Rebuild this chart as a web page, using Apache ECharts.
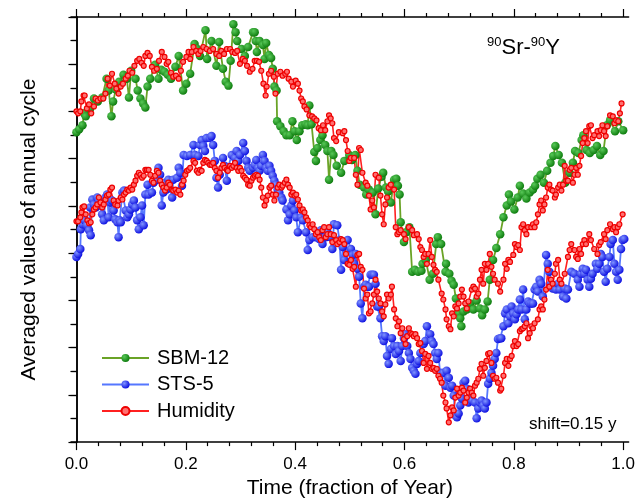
<!DOCTYPE html>
<html>
<head>
<meta charset="utf-8">
<script src="https://cdn.jsdelivr.net/npm/echarts@6/dist/echarts.min.js"></script>
<style>
  html, body { margin: 0; padding: 0; background: #fff; }
  #chart { width: 638px; height: 504px; }
</style>
</head>
<body>
<div id="chart"></div>
<script>
// time as fraction of year, averaged value (arbitrary units)
var sbm12 = [
  [0.000,31.3],[0.005,31.6],[0.011,32.0],[0.014,33.2],[0.017,32.9],[0.025,33.7],[0.032,34.7],[0.039,34.4],[0.047,34.8],[0.055,36.7],
  [0.059,35.5],[0.064,32.9],[0.067,34.4],[0.072,35.6],[0.078,36.4],[0.086,37.1],[0.092,36.7],[0.096,34.8],[0.100,37.5],[0.108,36.7],
  [0.112,35.5],[0.117,34.7],[0.122,34.2],[0.126,33.8],[0.130,35.9],[0.135,36.7],[0.144,38.1],[0.150,36.7],[0.155,37.6],[0.161,37.4],
  [0.167,37.1],[0.173,36.7],[0.181,37.9],[0.187,39.0],[0.195,35.5],[0.201,36.2],[0.208,37.2],[0.216,40.2],[0.221,39.7],[0.226,39.0],
  [0.236,41.6],[0.239,38.7],[0.247,40.5],[0.256,38.0],[0.261,40.4],[0.268,37.7],[0.273,36.4],[0.278,36.0],[0.282,38.5],[0.287,42.2],
  [0.291,41.4],[0.294,40.5],[0.302,39.7],[0.308,39.0],[0.314,39.9],[0.323,41.4],[0.326,41.4],[0.328,40.5],[0.330,39.4],[0.335,40.5],
  [0.341,40.1],[0.344,38.7],[0.347,40.3],[0.352,39.1],[0.356,38.8],[0.359,37.7],[0.362,35.9],[0.366,35.5],[0.367,32.4],[0.373,31.9],
  [0.379,31.4],[0.384,31.0],[0.390,31.0],[0.395,32.4],[0.399,31.4],[0.403,30.5],[0.408,31.4],[0.413,32.0],[0.419,32.1],[0.423,32.0],
  [0.426,34.0],[0.430,32.1],[0.435,29.3],[0.438,28.4],[0.441,29.7],[0.446,30.5],[0.450,31.0],[0.455,30.0],[0.459,29.4],[0.462,26.5],
  [0.466,29.4],[0.470,29.0],[0.476,27.9],[0.484,27.2],[0.490,28.4],[0.499,29.0],[0.504,28.5],[0.510,29.0],[0.514,27.4],[0.518,26.0],
  [0.526,25.7],[0.530,25.0],[0.535,25.5],[0.542,25.2],[0.547,23.0],[0.552,25.6],[0.558,26.8],[0.561,27.2],[0.566,25.7],[0.570,25.3],
  [0.575,24.2],[0.581,26.5],[0.585,26.6],[0.588,25.9],[0.591,25.0],[0.593,22.2],[0.599,20.2],[0.603,21.2],[0.609,21.7],[0.614,17.2],
  [0.619,17.4],[0.625,17.2],[0.631,17.3],[0.633,18.0],[0.639,18.4],[0.646,16.4],[0.652,17.0],[0.658,20.0],[0.661,20.7],[0.667,20.0],
  [0.675,17.2],[0.676,18.0],[0.682,17.0],[0.686,16.3],[0.690,15.9],[0.694,14.5],[0.699,13.0],[0.702,12.5],[0.704,11.7],[0.708,13.2],
  [0.714,13.4],[0.720,14.0],[0.726,13.4],[0.732,14.3],[0.738,13.5],[0.742,12.8],[0.747,13.4],[0.752,14.2],[0.756,16.4],[0.762,18.4],
  [0.768,19.6],[0.775,21.0],[0.781,22.7],[0.787,23.9],[0.791,25.0],[0.795,24.3],[0.801,23.5],[0.807,24.7],[0.811,25.9],[0.817,25.1],
  [0.823,24.6],[0.829,25.2],[0.835,25.5],[0.839,25.9],[0.843,26.6],[0.849,27.0],[0.855,26.2],[0.861,27.4],[0.867,28.2],[0.872,28.9],
  [0.876,29.9],[0.882,29.0],[0.888,28.2],[0.894,26.2],[0.902,27.2],[0.908,28.2],[0.912,29.4],[0.918,29.2],[0.924,30.5],[0.927,31.0],
  [0.933,29.5],[0.939,29.2],[0.946,29.5],[0.952,29.9],[0.958,29.0],[0.964,29.4],[0.970,32.0],[0.976,32.5],[0.985,31.4],[0.991,32.4],
  [1.000,31.5]
];

var sts5 = [
  [0.000,18.7],[0.003,19.0],[0.007,19.5],[0.008,21.5],[0.011,22.0],[0.015,22.4],[0.019,21.9],[0.023,21.4],[0.025,23.7],[0.026,20.9],
  [0.029,24.5],[0.032,24.0],[0.035,23.7],[0.038,24.7],[0.041,24.4],[0.044,23.9],[0.047,23.0],[0.050,22.4],[0.053,24.7],[0.056,25.0],
  [0.059,22.7],[0.062,24.2],[0.065,24.4],[0.068,23.4],[0.071,22.5],[0.075,22.2],[0.077,20.7],[0.079,22.4],[0.081,22.2],[0.084,25.2],
  [0.087,25.4],[0.090,23.4],[0.093,22.7],[0.096,23.0],[0.099,23.5],[0.102,24.0],[0.105,24.4],[0.108,23.7],[0.111,22.4],[0.114,21.5],
  [0.117,22.7],[0.120,23.9],[0.123,21.9],[0.126,25.0],[0.130,26.0],[0.132,25.0],[0.138,25.2],[0.141,26.2],[0.147,26.5],[0.150,27.7],
  [0.153,27.0],[0.156,23.9],[0.159,25.2],[0.162,26.2],[0.165,25.5],[0.168,26.5],[0.175,24.7],[0.177,26.5],[0.184,26.7],[0.187,27.7],
  [0.190,27.2],[0.193,25.9],[0.196,29.0],[0.202,28.9],[0.208,29.0],[0.214,30.0],[0.217,29.0],[0.223,28.9],[0.226,30.0],[0.229,30.5],
  [0.232,29.9],[0.235,29.4],[0.238,30.7],[0.244,30.7],[0.247,30.9],[0.250,30.0],[0.253,28.4],[0.256,26.7],[0.259,25.7],[0.262,27.0],
  [0.268,28.7],[0.271,27.9],[0.275,26.4],[0.277,27.7],[0.284,29.0],[0.290,28.7],[0.293,29.4],[0.296,28.4],[0.299,29.0],[0.305,30.2],
  [0.308,29.4],[0.311,28.4],[0.314,27.7],[0.317,27.4],[0.323,27.7],[0.326,28.0],[0.329,28.5],[0.332,27.7],[0.335,27.4],[0.338,27.9],
  [0.341,29.0],[0.344,28.4],[0.347,27.7],[0.350,27.4],[0.353,27.9],[0.356,27.4],[0.359,26.9],[0.362,26.4],[0.365,26.0],[0.368,25.5],
  [0.371,25.2],[0.375,24.7],[0.377,24.4],[0.384,23.5],[0.387,22.4],[0.390,23.0],[0.393,23.9],[0.396,24.4],[0.399,23.4],[0.402,22.7],
  [0.405,21.2],[0.411,22.7],[0.414,22.4],[0.420,21.2],[0.423,19.4],[0.426,20.4],[0.432,20.7],[0.438,20.7],[0.444,20.5],[0.447,21.4],
  [0.450,20.0],[0.456,20.7],[0.459,21.2],[0.465,20.7],[0.468,19.5],[0.471,22.0],[0.477,21.9],[0.481,20.4],[0.484,17.4],[0.487,19.7],
  [0.490,18.4],[0.496,20.4],[0.502,19.5],[0.505,18.9],[0.508,18.0],[0.511,19.0],[0.514,17.5],[0.517,16.7],[0.520,14.0],[0.523,12.5],
  [0.526,15.7],[0.529,15.9],[0.532,15.7],[0.535,15.7],[0.538,16.9],[0.541,16.9],[0.544,16.9],[0.547,16.0],[0.550,13.7],[0.553,13.7],
  [0.556,12.5],[0.559,10.7],[0.562,10.2],[0.565,10.7],[0.568,8.7],[0.571,7.9],[0.575,9.4],[0.577,10.5],[0.581,9.7],[0.584,8.9],
  [0.587,9.7],[0.590,9.2],[0.593,8.2],[0.596,9.7],[0.599,10.5],[0.602,10.9],[0.605,9.7],[0.608,9.0],[0.611,8.4],[0.614,7.5],
  [0.617,7.2],[0.620,6.9],[0.623,7.9],[0.626,8.2],[0.629,9.0],[0.635,9.9],[0.638,10.2],[0.641,11.7],[0.647,10.9],[0.650,10.2],
  [0.653,9.9],[0.656,9.0],[0.659,8.4],[0.662,9.0],[0.665,7.0],[0.671,7.0],[0.675,5.7],[0.677,7.2],[0.681,6.5],[0.684,5.5],
  [0.687,5.7],[0.690,4.7],[0.693,2.7],[0.696,2.5],[0.699,2.9],[0.702,3.7],[0.705,4.4],[0.708,6.0],[0.711,6.2],[0.714,5.4],
  [0.717,4.0],[0.720,4.4],[0.723,4.2],[0.729,4.0],[0.732,2.4],[0.735,3.4],[0.738,4.0],[0.741,4.2],[0.744,3.7],[0.747,3.4],
  [0.750,4.0],[0.753,5.9],[0.756,6.4],[0.759,7.0],[0.762,7.7],[0.765,8.4],[0.768,9.0],[0.771,10.4],[0.775,10.5],[0.777,10.5],
  [0.781,11.7],[0.784,13.0],[0.787,13.4],[0.790,12.0],[0.793,12.7],[0.796,13.7],[0.799,13.0],[0.802,12.4],[0.805,12.9],[0.808,13.4],
  [0.811,14.4],[0.814,13.4],[0.817,15.4],[0.820,12.4],[0.823,13.4],[0.826,14.2],[0.829,14.0],[0.832,14.0],[0.835,14.0],[0.838,15.4],
  [0.841,15.7],[0.844,15.2],[0.847,16.4],[0.850,16.0],[0.853,14.7],[0.859,18.9],[0.862,18.0],[0.865,17.2],[0.868,16.0],[0.871,15.5],
  [0.875,15.7],[0.877,15.4],[0.881,16.0],[0.884,15.4],[0.890,14.7],[0.893,15.5],[0.896,14.5],[0.899,15.4],[0.905,17.2],[0.911,17.0],
  [0.917,16.4],[0.920,15.7],[0.923,17.0],[0.926,17.5],[0.929,17.0],[0.932,17.4],[0.935,16.4],[0.938,15.7],[0.941,16.5],[0.944,17.0],
  [0.950,18.0],[0.953,17.5],[0.956,18.0],[0.959,19.0],[0.962,18.7],[0.965,17.2],[0.968,16.2],[0.971,17.5],[0.975,18.7],[0.977,20.0],
  [0.981,20.4],[0.984,18.0],[0.987,17.2],[0.990,16.4],[0.993,17.4],[0.996,19.5],[0.999,20.4],[1.002,20.5]
];

// humidity, drawn twice: once against SBM-12 (upper), once against STS-5 (lower)
var humidityUpper = [
  [0.000,33.4],[0.003,33.2],[0.007,33.4],[0.009,34.4],[0.013,35.0],[0.015,35.0],[0.019,33.7],[0.023,34.1],[0.027,33.2],[0.032,33.9],
  [0.035,34.7],[0.039,34.5],[0.044,34.7],[0.049,34.7],[0.053,35.2],[0.057,36.7],[0.061,36.0],[0.065,37.2],[0.070,36.2],[0.073,35.7],
  [0.077,35.2],[0.081,35.9],[0.085,36.2],[0.090,36.7],[0.094,37.0],[0.097,37.5],[0.102,37.3],[0.106,38.0],[0.111,38.5],[0.115,38.7],
  [0.119,38.3],[0.123,38.0],[0.126,39.0],[0.130,39.3],[0.134,39.0],[0.138,37.9],[0.142,37.5],[0.147,37.7],[0.151,38.5],[0.156,39.4],
  [0.161,38.9],[0.165,38.2],[0.168,38.4],[0.173,37.3],[0.177,36.9],[0.182,37.0],[0.187,36.7],[0.191,37.5],[0.195,38.4],[0.201,38.9],
  [0.205,39.4],[0.208,38.7],[0.211,39.4],[0.214,39.9],[0.219,39.5],[0.223,39.2],[0.227,39.5],[0.232,39.9],[0.238,39.7],[0.244,39.5],
  [0.250,39.7],[0.256,39.2],[0.261,39.0],[0.265,39.5],[0.270,39.2],[0.275,39.7],[0.281,39.7],[0.285,39.4],[0.290,39.3],[0.294,39.5],
  [0.299,38.2],[0.304,38.7],[0.308,38.5],[0.312,38.0],[0.317,37.4],[0.322,37.7],[0.326,38.5],[0.330,38.5],[0.334,38.4],[0.338,37.5],
  [0.342,36.2],[0.346,35.0],[0.348,35.9],[0.352,37.2],[0.356,37.5],[0.361,36.9],[0.364,35.2],[0.368,37.2],[0.373,37.4],[0.377,37.0],
  [0.382,37.2],[0.385,37.4],[0.388,36.7],[0.393,36.4],[0.396,35.9],[0.401,36.5],[0.405,36.2],[0.408,35.5],[0.411,34.7],[0.414,34.4],
  [0.417,33.9],[0.421,33.6],[0.426,33.0],[0.431,32.9],[0.435,32.7],[0.439,32.5],[0.443,31.7],[0.447,31.5],[0.451,32.0],[0.455,31.5],
  [0.459,32.4],[0.462,33.0],[0.465,32.7],[0.468,32.2],[0.471,30.7],[0.475,30.4],[0.480,31.3],[0.487,31.2],[0.490,31.4],[0.493,30.5],
  [0.496,29.4],[0.499,28.4],[0.502,28.7],[0.508,28.7],[0.511,27.0],[0.514,26.0],[0.517,29.7],[0.520,29.5],[0.523,27.2],[0.529,26.2],
  [0.532,25.9],[0.535,24.9],[0.538,23.5],[0.541,24.4],[0.544,23.7],[0.547,27.0],[0.553,26.7],[0.556,24.9],[0.559,23.0],[0.562,22.0],
  [0.565,24.0],[0.568,24.7],[0.571,25.7],[0.575,26.0],[0.581,25.5],[0.584,21.7],[0.587,21.0],[0.590,21.2],[0.593,21.4],[0.599,21.0],
  [0.602,20.5],[0.608,21.7],[0.614,21.4],[0.617,20.9],[0.623,21.0],[0.626,20.5],[0.629,19.7],[0.632,19.4],[0.635,18.7],[0.638,19.0],
  [0.641,18.0],[0.644,19.0],[0.647,20.4],[0.650,18.7],[0.653,17.9],[0.656,17.4],[0.659,17.2],[0.662,16.4],[0.668,15.0],[0.671,14.4],
  [0.675,13.4],[0.677,12.4],[0.681,11.7],[0.684,11.4],[0.687,13.0],[0.690,12.7],[0.693,13.7],[0.696,13.5],[0.699,14.0],[0.702,14.7],
  [0.705,15.4],[0.708,14.7],[0.711,14.0],[0.714,13.5],[0.717,14.2],[0.723,15.4],[0.726,15.7],[0.729,15.5],[0.732,14.7],[0.735,15.0],
  [0.738,16.4],[0.741,17.4],[0.744,16.0],[0.747,18.0],[0.750,17.4],[0.753,18.0],[0.756,19.0],[0.759,17.7],[0.762,17.0],[0.765,16.4],
  [0.771,16.0],[0.775,15.2],[0.781,16.4],[0.784,18.0],[0.787,17.5],[0.790,18.4],[0.793,18.2],[0.799,18.9],[0.802,20.0],[0.805,19.7],
  [0.808,19.9],[0.811,19.4],[0.814,21.7],[0.817,22.0],[0.820,21.4],[0.823,21.0],[0.826,21.7],[0.832,21.7],[0.835,22.0],[0.838,21.7],
  [0.841,22.2],[0.844,23.0],[0.847,24.0],[0.850,24.4],[0.853,23.4],[0.856,24.0],[0.859,24.7],[0.862,25.7],[0.865,26.0],[0.868,25.5],
  [0.871,25.4],[0.875,24.7],[0.877,25.0],[0.881,25.7],[0.884,26.0],[0.887,25.4],[0.890,26.0],[0.893,27.9],[0.896,26.4],[0.899,26.4],
  [0.902,27.5],[0.905,27.7],[0.908,26.2],[0.911,27.0],[0.914,27.7],[0.917,27.0],[0.920,27.9],[0.923,28.9],[0.926,30.2],[0.929,30.7],
  [0.932,31.4],[0.935,30.2],[0.938,31.9],[0.941,32.0],[0.944,30.7],[0.947,31.0],[0.953,31.4],[0.956,30.9],[0.959,31.5],[0.962,32.0],
  [0.965,31.4],[0.968,30.9],[0.971,31.9],[0.976,33.0],[0.981,32.9],[0.984,32.2],[0.987,32.5],[0.991,32.4],[0.994,33.2],[0.997,34.2]
];

var humidityLower = [
  [0.000,22.3],[0.003,22.3],[0.007,22.7],[0.009,23.2],[0.011,23.7],[0.014,23.8],[0.017,23.0],[0.020,22.4],[0.023,22.1],[0.026,22.2],
  [0.029,23.0],[0.032,23.5],[0.035,23.7],[0.038,24.0],[0.041,24.7],[0.044,24.2],[0.047,23.7],[0.050,24.0],[0.053,24.5],[0.056,24.9],
  [0.059,25.0],[0.062,25.5],[0.065,25.7],[0.068,24.4],[0.071,24.0],[0.075,23.9],[0.077,24.4],[0.081,24.7],[0.084,24.5],[0.087,25.0],
  [0.090,25.2],[0.093,25.5],[0.096,25.4],[0.099,25.7],[0.102,25.5],[0.105,26.0],[0.108,26.4],[0.111,26.9],[0.114,27.2],[0.117,27.0],
  [0.120,26.7],[0.123,26.9],[0.126,27.5],[0.129,27.5],[0.132,27.5],[0.135,27.0],[0.138,26.4],[0.141,26.2],[0.144,26.9],[0.147,27.4],
  [0.150,27.2],[0.153,26.4],[0.156,26.0],[0.159,25.7],[0.162,25.4],[0.165,25.7],[0.168,26.2],[0.171,26.0],[0.175,25.5],[0.177,25.4],
  [0.181,25.5],[0.184,25.2],[0.187,25.4],[0.190,25.0],[0.193,26.0],[0.196,26.4],[0.199,27.0],[0.202,27.4],[0.205,27.5],[0.208,27.7],
  [0.214,28.4],[0.217,28.2],[0.220,27.4],[0.223,27.2],[0.226,27.5],[0.229,27.4],[0.232,28.2],[0.235,28.5],[0.238,28.4],[0.241,28.2],
  [0.244,28.0],[0.247,28.0],[0.250,28.2],[0.253,27.7],[0.256,27.4],[0.259,26.7],[0.262,27.2],[0.265,27.7],[0.268,28.0],[0.271,27.7],
  [0.275,27.5],[0.277,27.4],[0.281,27.9],[0.284,27.7],[0.287,27.9],[0.290,28.2],[0.293,27.7],[0.296,27.4],[0.299,27.7],[0.302,27.4],
  [0.305,26.9],[0.308,26.7],[0.311,26.5],[0.314,26.0],[0.317,25.9],[0.320,26.4],[0.323,26.7],[0.326,26.9],[0.329,27.0],[0.332,26.9],
  [0.335,26.5],[0.338,25.7],[0.341,24.7],[0.344,23.9],[0.347,24.4],[0.350,24.9],[0.353,25.7],[0.356,25.9],[0.359,25.0],[0.362,24.4],
  [0.365,25.0],[0.368,25.7],[0.371,26.0],[0.375,25.7],[0.377,25.9],[0.381,26.2],[0.384,26.5],[0.387,26.0],[0.390,25.7],[0.393,25.0],
  [0.396,25.2],[0.399,24.9],[0.402,25.0],[0.405,24.5],[0.408,23.9],[0.411,23.4],[0.414,23.5],[0.417,23.2],[0.420,22.7],[0.423,22.4],
  [0.426,21.9],[0.429,21.7],[0.432,22.0],[0.435,21.5],[0.438,21.0],[0.441,21.2],[0.444,20.7],[0.447,20.4],[0.450,21.4],[0.453,21.7],
  [0.456,20.7],[0.459,21.0],[0.462,21.7],[0.465,21.0],[0.468,20.2],[0.471,20.9],[0.475,20.4],[0.477,20.0],[0.481,20.2],[0.484,20.5],
  [0.487,20.4],[0.490,20.0],[0.493,19.0],[0.496,18.0],[0.499,17.9],[0.502,18.4],[0.505,17.5],[0.508,17.7],[0.511,15.7],[0.514,18.9],
  [0.517,19.0],[0.520,17.7],[0.523,17.4],[0.526,15.5],[0.529,14.5],[0.532,14.9],[0.535,13.0],[0.538,13.2],[0.541,14.0],[0.544,14.9],
  [0.547,16.4],[0.550,15.2],[0.553,14.5],[0.556,14.0],[0.559,13.2],[0.562,12.7],[0.565,13.9],[0.568,14.9],[0.571,14.5],[0.575,14.9],
  [0.577,15.7],[0.581,13.4],[0.584,12.5],[0.587,11.7],[0.590,12.2],[0.593,11.0],[0.596,11.5],[0.599,10.4],[0.602,9.9],[0.605,10.7],
  [0.608,11.5],[0.611,11.0],[0.614,10.9],[0.617,10.7],[0.620,10.9],[0.623,10.5],[0.626,9.9],[0.629,10.0],[0.632,9.2],[0.635,8.0],
  [0.638,8.9],[0.641,7.4],[0.644,8.7],[0.647,8.0],[0.650,7.4],[0.653,7.5],[0.656,7.2],[0.659,7.4],[0.662,6.7],[0.665,6.4],
  [0.668,6.0],[0.671,4.7],[0.675,4.0],[0.677,3.4],[0.681,2.0],[0.684,2.7],[0.687,3.5],[0.690,3.2],[0.693,4.5],[0.696,5.4],
  [0.699,4.7],[0.702,5.0],[0.705,5.5],[0.708,5.2],[0.711,4.0],[0.714,4.5],[0.717,5.0],[0.720,5.4],[0.723,5.0],[0.726,4.7],
  [0.729,5.7],[0.732,6.0],[0.735,6.4],[0.738,7.4],[0.741,7.9],[0.744,6.7],[0.747,7.5],[0.750,8.2],[0.753,8.9],[0.756,9.0],
  [0.759,8.0],[0.762,6.7],[0.765,6.4],[0.768,6.5],[0.771,6.0],[0.775,5.2],[0.777,5.4],[0.781,6.7],[0.784,8.0],[0.787,8.4],
  [0.790,7.7],[0.793,8.4],[0.796,8.7],[0.799,9.7],[0.802,10.2],[0.805,9.7],[0.808,9.9],[0.811,11.2],[0.814,11.4],[0.817,11.5],
  [0.820,11.7],[0.823,12.0],[0.826,10.5],[0.829,11.0],[0.832,11.7],[0.835,11.5],[0.838,12.0],[0.844,12.4],[0.847,13.4],[0.850,13.7],
  [0.853,13.4],[0.856,14.4],[0.859,15.4],[0.862,17.4],[0.865,15.7],[0.868,16.4],[0.871,16.0],[0.875,17.0],[0.877,18.0],[0.881,18.4],
  [0.884,16.4],[0.887,16.0],[0.893,17.0],[0.899,18.7],[0.902,19.4],[0.905,20.0],[0.911,19.4],[0.914,18.7],[0.917,18.5],[0.920,19.5],
  [0.923,19.0],[0.926,20.0],[0.929,20.4],[0.932,20.0],[0.938,21.0],[0.941,20.4],[0.947,19.5],[0.953,19.0],[0.956,19.9],[0.959,20.2],
  [0.965,21.0],[0.968,20.5],[0.971,21.4],[0.976,22.0],[0.981,21.5],[0.984,21.7],[0.987,21.2],[0.990,21.7],[0.993,22.0],[0.999,23.0]
];

var xMajorTicks = [0, 0.2, 0.4, 0.6, 0.8, 1.0];
var xMinorTicks = [0.04, 0.08, 0.12, 0.16, 0.24, 0.28, 0.32, 0.36, 0.44, 0.48, 0.52, 0.56,
                   0.64, 0.68, 0.72, 0.76, 0.84, 0.88, 0.92, 0.96];

var FONT = '"Liberation Sans", Arial, sans-serif';
var X_MIN = -0.01, X_MAX = 1.01;
var Y_MAX = 42.93, Y_STEP = 4.77;

var chart = echarts.init(document.getElementById('chart'));

function ball(light, dark) {
    return {
        type: 'radial', x: 0.35, y: 0.35, r: 0.75,
        colorStops: [{offset: 0, color: light}, {offset: 1, color: dark}]
    };
}

var frameLine = {show: true, lineStyle: {color: '#000', width: 1.5}};

var option = {
    animation: false,
    backgroundColor: '#fff',
    grid: {left: 71, right: 7, top: 17, bottom: 57},
    legend: {
        orient: 'vertical',
        left: 96,
        top: 343,
        itemWidth: 47,
        itemHeight: 10,
        itemGap: 6.5,
        data: ['SBM-12', 'STS-5', 'Humidity'],
        textStyle: {fontFamily: FONT, fontSize: 20, color: '#000', lineHeight: 20, padding: [0, 0, 0, 3]}
    },
    graphic: [
        {
            type: 'text', left: 487, top: 36,
            style: {
                text: '{s|90}{b|Sr-}{s|90}{b|Y}',
                rich: {
                    s: {fontFamily: FONT, fontSize: 13, color: '#000', verticalAlign: 'top', lineHeight: 24},
                    b: {fontFamily: FONT, fontSize: 22, color: '#000', lineHeight: 24}
                }
            }
        },
        {
            type: 'text', left: 529, top: 416,
            style: {text: 'shift=0.15 y', fontFamily: FONT, fontSize: 17, fill: '#000'}
        }
    ],
    xAxis: [
        {
            type: 'value', min: X_MIN, max: X_MAX, position: 'bottom',
            name: 'Time (fraction of Year)', nameLocation: 'middle', nameGap: 35,
            nameTextStyle: {fontFamily: FONT, fontSize: 21, color: '#000'},
            axisLine: frameLine,
            axisTick: {show: true, customValues: xMajorTicks, length: 8, lineStyle: {color: '#000', width: 1.2}},
            axisLabel: {customValues: xMajorTicks, margin: 14, fontFamily: FONT, fontSize: 17, color: '#000',
                        formatter: function (v) { return v.toFixed(1); }},
            splitLine: {show: false}
        },
        {
            type: 'value', min: X_MIN, max: X_MAX, position: 'bottom',
            axisLine: {show: false},
            axisTick: {show: true, customValues: xMinorTicks, length: 4, lineStyle: {color: '#000', width: 1.2}},
            axisLabel: {show: false}, splitLine: {show: false}
        },
        {
            type: 'value', min: X_MIN, max: X_MAX, position: 'top',
            axisLine: frameLine,
            axisTick: {show: true, customValues: xMajorTicks, length: 8, lineStyle: {color: '#000', width: 1.2}},
            axisLabel: {show: false}, splitLine: {show: false}
        },
        {
            type: 'value', min: X_MIN, max: X_MAX, position: 'top',
            axisLine: {show: false},
            axisTick: {show: true, customValues: xMinorTicks, length: 4, lineStyle: {color: '#000', width: 1.2}},
            axisLabel: {show: false}, splitLine: {show: false}
        }
    ],
    yAxis: [
        {
            type: 'value', min: 0, max: Y_MAX, interval: Y_STEP, position: 'left',
            name: 'Averaged values of annual cycle', nameLocation: 'middle', nameGap: 31,
            nameTextStyle: {fontFamily: FONT, fontSize: 21, color: '#000'},
            axisLine: frameLine,
            axisTick: {show: true, length: 8, lineStyle: {color: '#000', width: 1.2}},
            minorTick: {show: true, splitNumber: 2, length: 5, lineStyle: {color: '#000', width: 1.2}},
            axisLabel: {show: false}, splitLine: {show: false}
        },
        {
            type: 'value', min: 0, max: Y_MAX, interval: Y_STEP / 2, position: 'right',
            axisLine: frameLine,
            axisTick: {show: true, inside: true, length: 6, lineStyle: {color: '#000', width: 1.2}},
            axisLabel: {show: false}, splitLine: {show: false}
        }
    ],
    series: [
        {
            name: 'SBM-12', type: 'line', data: sbm12,
            symbol: 'circle', symbolSize: 8.5,
            lineStyle: {color: '#6aa326', width: 1.8},
            itemStyle: {color: ball('#58c858', '#067406')}
        },
        {
            name: 'STS-5', type: 'line', data: sts5,
            symbol: 'circle', symbolSize: 8.5,
            lineStyle: {color: '#5577ff', width: 1.8},
            itemStyle: {color: ball('#8095ff', '#0000dd')}
        },
        {
            name: 'Humidity', type: 'line', data: humidityUpper,
            symbol: 'circle', symbolSize: 5,
            lineStyle: {color: '#ff2020', width: 1.6},
            itemStyle: {color: '#ff7070', borderColor: '#ee0000', borderWidth: 1.2}
        },
        {
            name: 'Humidity', type: 'line', data: humidityLower,
            symbol: 'circle', symbolSize: 5,
            lineStyle: {color: '#ff2020', width: 1.6},
            itemStyle: {color: '#ff7070', borderColor: '#ee0000', borderWidth: 1.2}
        }
    ]
};

chart.setOption(option);
</script>
</body>
</html>
